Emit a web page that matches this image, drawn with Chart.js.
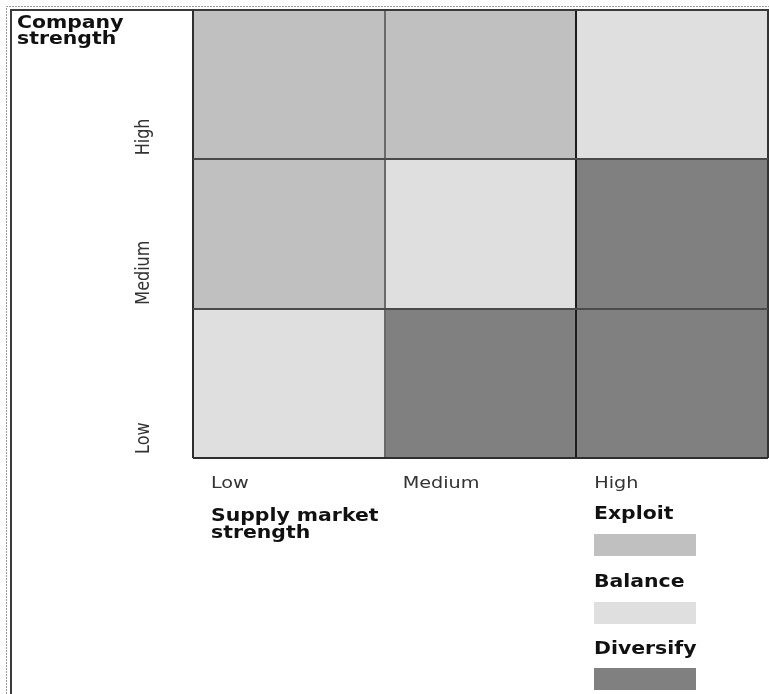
<!DOCTYPE html>
<html>
<head>
<meta charset="utf-8">
<script src="https://cdn.jsdelivr.net/npm/chart.js@4.4.1/dist/chart.umd.min.js"></script>
<style>
  html, body { margin: 0; padding: 0; background: #ffffff; }
  #wrap { position: relative; width: 769px; height: 694px; }
  canvas { display: block; }
</style>
</head>
<body>
<div id="wrap"><canvas id="matrix" width="769" height="694"></canvas></div>
<script>
// Supply market strength along the bottom, company strength up the side
const supplyLevels = ['Low', 'Medium', 'High'];
const companyLevels = ['Low', 'Medium', 'High'];

// Strategy zone for each cell, one list per company-strength row (columns: Low, Medium, High)
const rowLow = ['Balance', 'Diversify', 'Diversify'];
const rowMedium = ['Exploit', 'Balance', 'Diversify'];
const rowHigh = ['Exploit', 'Exploit', 'Balance'];

// Each cell fills one band of the stacked scale
const cellSpan = [1, 1, 1];

// Zone names shown in the key
const zoneNames = ['Exploit', 'Balance', 'Diversify'];

const zoneColors = { Exploit: '#c0c0c0', Balance: '#dfdfdf', Diversify: '#808080' };
const rowZones = [rowLow, rowMedium, rowHigh];

const datasets = companyLevels.map((level, i) => ({
  label: level,
  data: cellSpan.slice(),
  backgroundColor: rowZones[i].map(z => zoneColors[z]),
  borderWidth: 0,
  barPercentage: 1,
  categoryPercentage: 1
}));

// Draw text with a stretch (optionally rotated)
function stretchedText(ctx, text, x, y, font, color, sx, sy, angle) {
  ctx.save();
  ctx.translate(x, y);
  if (angle) ctx.rotate(angle);
  ctx.scale(sx, sy);
  ctx.font = font;
  ctx.fillStyle = color;
  ctx.textAlign = 'left';
  ctx.textBaseline = 'alphabetic';
  ctx.fillText(text, 0, 0);
  ctx.restore();
}

const framePlugin = {
  id: 'frame',
  beforeDraw(chart) {
    const ctx = chart.ctx;
    ctx.save();
    // dashed outer edge
    ctx.strokeStyle = '#9a9a9a';
    ctx.lineWidth = 1;
    ctx.setLineDash([2, 1]);
    ctx.beginPath();
    ctx.moveTo(6.5, 694);
    ctx.lineTo(6.5, 6.5);
    ctx.lineTo(769, 6.5);
    ctx.stroke();
    ctx.setLineDash([]);
    // solid inner edge
    ctx.strokeStyle = '#3a3a3a';
    ctx.lineWidth = 2;
    ctx.beginPath();
    ctx.moveTo(11, 694);
    ctx.lineTo(11, 10);
    ctx.lineTo(769, 10);
    ctx.stroke();
    ctx.restore();
  }
};

const labelsPlugin = {
  id: 'matrixLabels',
  afterDraw(chart) {
    const ctx = chart.ctx;
    const x = chart.scales.x;
    const y = chart.scales.y;
    const area = chart.chartArea;
    const colW = (area.right - area.left) / supplyLevels.length;
    const boldFont = 'bold 17px "DejaVu Sans"';
    const tickFont = '16px "DejaVu Sans"';

    // axis titles
    stretchedText(ctx, 'Company', 17, 28, boldFont, '#111111', 1.2, 1, 0);
    stretchedText(ctx, 'strength', 17, 44, boldFont, '#111111', 1.2, 1, 0);
    stretchedText(ctx, 'Supply market', 211, 521, boldFont, '#111111', 1.2, 1, 0);
    stretchedText(ctx, 'strength', 211, 538, boldFont, '#111111', 1.2, 1, 0);

    // column labels, left-aligned inside each column
    supplyLevels.forEach((lab, i) => {
      const left = x.getPixelForValue(i) - colW / 2;
      stretchedText(ctx, lab, left + 18, 488, tickFont, '#333333', 1.2, 1, 0);
    });

    // row labels, rotated and starting near the bottom of each row
    companyLevels.forEach((lab, i) => {
      const bottom = y.getPixelForValue(i);
      stretchedText(ctx, lab, 149, bottom - 4, tickFont, '#333333', 1, 1.2, -Math.PI / 2);
    });

    // key
    const keyX = 594;
    const keyTitles = [519, 587, 654];
    const keySwatch = [534, 602, 668];
    zoneNames.forEach((z, i) => {
      stretchedText(ctx, z, keyX, keyTitles[i], boldFont, '#111111', 1.2, 1, 0);
      ctx.save();
      ctx.fillStyle = zoneColors[z];
      ctx.fillRect(keyX, keySwatch[i], 102, 22);
      ctx.restore();
    });
  }
};

const gridX = ['#2e2e2e', '#6a6a6a', '#1c1c1c', '#3a3a3a'];
const gridY = ['#2e2e2e', '#4a4a4a', '#4a4a4a', '#3a3a3a'];

new Chart(document.getElementById('matrix'), {
  type: 'bar',
  data: { labels: supplyLevels, datasets },
  options: {
    responsive: false,
    animation: false,
    layout: { padding: { left: 193, top: 10, right: 1, bottom: 236 } },
    plugins: { legend: { display: false }, tooltip: { enabled: false } },
    scales: {
      x: {
        stacked: true,
        offset: true,
        grid: {
          z: 1,
          offset: true,
          drawTicks: false,
          tickLength: 0,
          lineWidth: 2,
          color: ctx => gridX[ctx.index] || '#333'
        },
        border: { display: false },
        ticks: { display: false }
      },
      y: {
        stacked: true,
        min: 0,
        max: 3,
        grid: {
          z: 1,
          drawTicks: false,
          tickLength: 0,
          lineWidth: 2,
          color: ctx => gridY[ctx.index] || '#333'
        },
        border: { display: false },
        ticks: { display: false, stepSize: 1 }
      }
    }
  },
  plugins: [framePlugin, labelsPlugin]
});
</script>
</body>
</html>
